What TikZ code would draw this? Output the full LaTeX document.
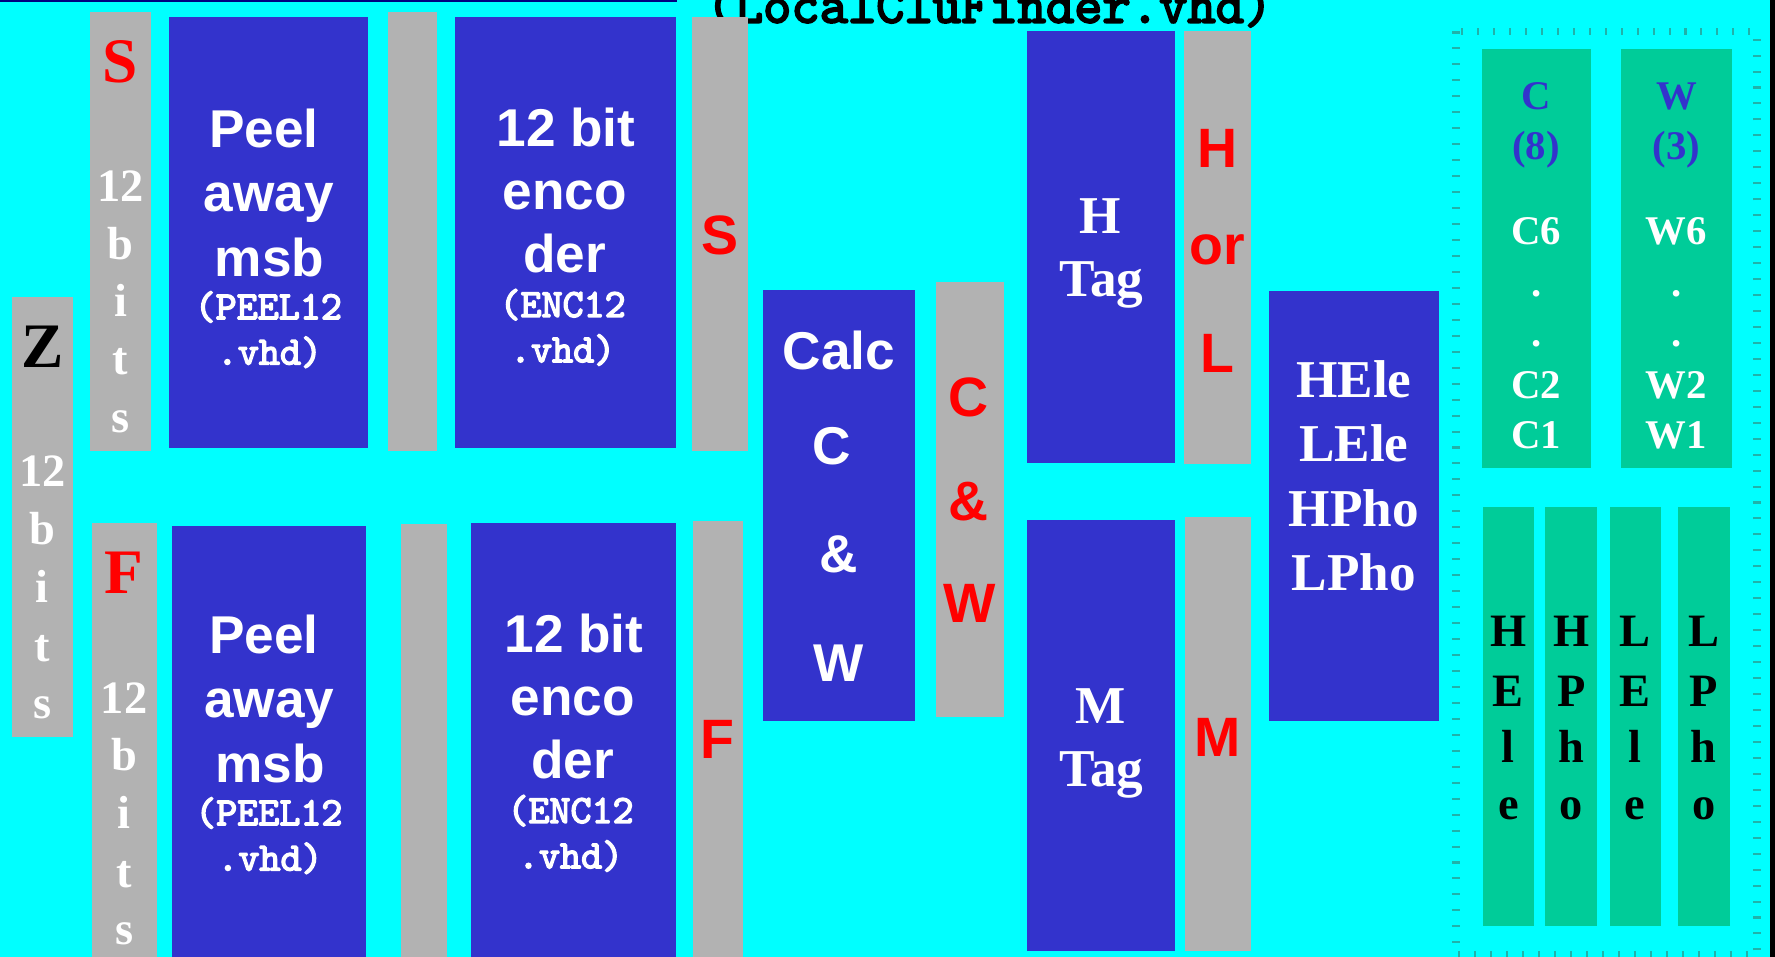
\documentclass[tikz,border=0pt]{standalone}
\usepackage{fontspec}
\setmainfont{Liberation Serif}
\setsansfont{Liberation Sans}
\newfontfamily\slabmono[FakeBold=3.5]{lmmono10-regular.otf}
\definecolor{bg}{RGB}{0,255,255}
\definecolor{blk}{RGB}{51,51,204}
\definecolor{bar}{RGB}{178,178,178}
\definecolor{grn}{RGB}{0,204,153}
\definecolor{navy}{RGB}{0,0,128}
\definecolor{tick}{RGB}{32,178,170}
\tikzset{
  x=0.5pt, y=-0.5pt,
  lbl/.style={anchor=base, inner sep=0pt, outer sep=0pt},
  sanslbl/.style={lbl, text=white, font=\sffamily\bfseries\fontsize{23.5pt}{28pt}\selectfont},
  monolbl/.style={lbl, text=white, font=\slabmono\fontsize{17.7pt}{20pt}\selectfont},
  bitlbl/.style={lbl, text=white, font=\rmfamily\bfseries\fontsize{20.5pt}{24pt}\selectfont},
  bigred/.style={lbl, text=red, font=\rmfamily\bfseries\fontsize{28pt}{32pt}\selectfont},
  redsans/.style={lbl, text=red, font=\sffamily\bfseries\fontsize{24.5pt}{28pt}\selectfont},
  taglbl/.style={lbl, text=white, font=\rmfamily\bfseries\fontsize{23.5pt}{28pt}\selectfont},
  cwblue/.style={lbl, text=blk, font=\rmfamily\bfseries\fontsize{18pt}{21pt}\selectfont},
  cwwhite/.style={lbl, text=white, font=\rmfamily\bfseries\fontsize{18pt}{21pt}\selectfont},
  vert/.style={lbl, text=black, font=\rmfamily\bfseries\fontsize{20.5pt}{24pt}\selectfont},
}
\begin{document}
\begin{tikzpicture}
\useasboundingbox (0,0) rectangle (1568,845);
\clip (0,0) rectangle (1568,845);
\fill[bg] (0,0) rectangle (1568,845);
\fill[black] (1564,0) rectangle (1568,845);
\fill[navy] (0,0) rectangle (598,2.2);

% title
\node[lbl, font=\slabmono\fontsize{23.8pt}{26pt}\selectfont] (title) at (874,20) {(LocalCluFinder.vhd)};

% grey signal bars
\fill[bar] (10.3,262.7) rectangle (64.2,651);
\fill[bar] (79.5,10.6) rectangle (133.4,398.5);
\fill[bar] (81,462) rectangle (138.4,850);
\fill[bar] (343,10.6) rectangle (386,398);
\fill[bar] (354,463) rectangle (395,850);
\fill[bar] (611,15) rectangle (661,398);
\fill[bar] (612,460) rectangle (656,850);
\fill[bar] (827,249) rectangle (887,633);
\fill[bar] (1046,27.4) rectangle (1105,410);
\fill[bar] (1047,457) rectangle (1105,840);

% blue processing blocks
\fill[blk] (149,15) rectangle (325,396);
\fill[blk] (152,464.6) rectangle (323,850);
\fill[blk] (402,15) rectangle (597,396);
\fill[blk] (416,461.7) rectangle (597,850);
\fill[blk] (674,256) rectangle (808,637);
\fill[blk] (907,27.4) rectangle (1038,409);
\fill[blk] (907,459) rectangle (1038,840);
\fill[blk] (1121,257) rectangle (1271,637);

% output frame
\draw[tick, line width=3.5pt, dash pattern=on 0.9pt off 6.15pt] (1286.3,27.8) rectangle (1552.2,843.6);
\fill[grn] (1309,43.5) rectangle (1405,413);
\fill[grn] (1432,43.5) rectangle (1530,413);
\fill[grn] (1310,448) rectangle (1355,818);
\fill[grn] (1365,448) rectangle (1411,818);
\fill[grn] (1422,448) rectangle (1467,818);
\fill[grn] (1482,448) rectangle (1528,818);

% Z input
\node[lbl, text=black, font=\rmfamily\bfseries\fontsize{28pt}{32pt}\selectfont] (zl) at (37.3,325) {Z};
\node[bitlbl] (z1) at (37.3,430) {12};
\node[bitlbl] (z2) at (37.3,481) {b};
\node[bitlbl] (z3) at (37.3,532) {i};
\node[bitlbl] (z4) at (37.3,584) {t};
\node[bitlbl] (z5) at (37.3,634.5) {s};

% S input
\node[bigred] (sl) at (106.5,73) {S};
\node[bitlbl] (s1) at (106.5,178) {12};
\node[bitlbl] (s2) at (106.5,229) {b};
\node[bitlbl] (s3) at (106.5,280) {i};
\node[bitlbl] (s4) at (106.5,331) {t};
\node[bitlbl] (s5) at (106.5,382) {s};

% F input
\node[bigred] (fl) at (109.7,524) {F};
\node[bitlbl] (f1) at (109.7,630) {12};
\node[bitlbl] (f2) at (109.7,681) {b};
\node[bitlbl] (f3) at (109.7,732) {i};
\node[bitlbl] (f4) at (109.7,784) {t};
\node[bitlbl] (f5) at (109.7,834) {s};

% peel blocks
\node[sanslbl] (pa1) at (233,130) {Peel};
\node[sanslbl] (pa2) at (237.5,187) {away};
\node[sanslbl] (pa3) at (238,244) {msb};
\node[monolbl] (pa4) at (237,282) {(PEEL12};
\node[monolbl] (pa5) at (238,322) {.vhd)};
\node[sanslbl] (pb1) at (233,577) {Peel};
\node[sanslbl] (pb2) at (238,634) {away};
\node[sanslbl] (pb3) at (238.5,691) {msb};
\node[monolbl] (pb4) at (237.5,729) {(PEEL12};
\node[monolbl] (pb5) at (238.5,769) {.vhd)};

% encoder blocks
\node[sanslbl] (ea1) at (500,129) {12 bit};
\node[sanslbl] (ea2) at (499,185) {enco};
\node[sanslbl] (ea3) at (499,241) {der};
\node[monolbl] (ea4) at (497,280) {(ENC12};
\node[monolbl] (ea5) at (497,320) {.vhd)};
\node[sanslbl] (eb1) at (507,576) {12 bit};
\node[sanslbl] (eb2) at (506,632) {enco};
\node[sanslbl] (eb3) at (506,688) {der};
\node[monolbl] (eb4) at (504,727) {(ENC12};
\node[monolbl] (eb5) at (504,767) {.vhd)};

% encoded outputs
\node[redsans] (so) at (636,225) {S};
\node[redsans] (fo) at (634,670) {F};

% C & W calculation
\node[sanslbl] (c1) at (741,326) {Calc};
\node[sanslbl] (c2) at (735,410) {C};
\node[sanslbl] (c3) at (741,506) {\&};
\node[sanslbl] (c4) at (741,602) {W};
\node[redsans] (cw1) at (856,368) {C};
\node[redsans] (cw2) at (856,460) {\&};
\node[redsans] (cw3) at (857,550) {W};

% tag blocks
\node[taglbl] (h1) at (972,206) {H};
\node[taglbl] (h2) at (973,262) {Tag};
\node[redsans] (hl1) at (1075.5,148) {H};
\node[redsans] (hl2) at (1075.5,234) {or};
\node[redsans] (hl3) at (1075.5,329) {L};
\node[taglbl] (m1) at (972,639) {M};
\node[taglbl] (m2) at (973,695) {Tag};
\node[redsans] (mo) at (1076,668) {M};

% type block
\node[taglbl] (t1) at (1196,351) {HEle};
\node[taglbl] (t2) at (1196,408) {LEle};
\node[taglbl] (t3) at (1196,465) {HPho};
\node[taglbl] (t4) at (1196,522) {LPho};

% C and W registers
\node[cwblue] (ca) at (1357,97) {C};
\node[cwblue] (cb) at (1357,141) {(8)};
\node[cwwhite] (cc) at (1357,216) {C6};
\node[cwwhite] (cd) at (1357,262) {.};
\node[cwwhite] (ce) at (1357,306) {.};
\node[cwwhite] (cf) at (1357,352) {C2};
\node[cwwhite] (cg) at (1357,396) {C1};
\node[cwblue] (wa) at (1481,97) {W};
\node[cwblue] (wb) at (1481,141) {(3)};
\node[cwwhite] (wc) at (1481,216) {W6};
\node[cwwhite] (wd) at (1481,262) {.};
\node[cwwhite] (we) at (1481,306) {.};
\node[cwwhite] (wf) at (1481,352) {W2};
\node[cwwhite] (wg) at (1481,396) {W1};

% type flags
\node[vert] (ha) at (1332.5,571) {H};
\node[vert] (hb) at (1332.5,624) {E};
\node[vert] (hc) at (1332.5,674) {l};
\node[vert] (hd) at (1332.5,724) {e};
\node[vert] (pa) at (1388,571) {H};
\node[vert] (pb) at (1388,624) {P};
\node[vert] (pc) at (1388,674) {h};
\node[vert] (pd) at (1388,724) {o};
\node[vert] (la) at (1444.5,571) {L};
\node[vert] (lb) at (1444.5,624) {E};
\node[vert] (lc) at (1444.5,674) {l};
\node[vert] (ld) at (1444.5,724) {e};
\node[vert] (qa) at (1505,571) {L};
\node[vert] (qb) at (1505,624) {P};
\node[vert] (qc) at (1505,674) {h};
\node[vert] (qd) at (1505,724) {o};
\end{tikzpicture}
\end{document}
